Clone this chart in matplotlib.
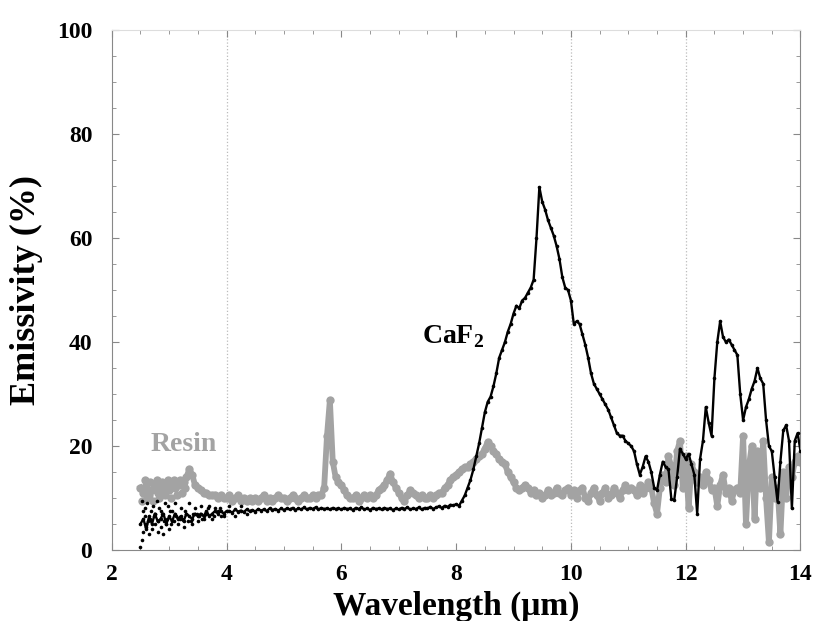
import numpy as np
import matplotlib
matplotlib.use("Agg")
import matplotlib.pyplot as plt

plt.rcParams["font.family"] = ["Liberation Serif", "DejaVu Serif"]
plt.rcParams["font.weight"] = "bold"
plt.rcParams["mathtext.fontset"] = "custom"
plt.rcParams["mathtext.rm"] = "Liberation Serif:bold"
plt.rcParams["mathtext.bf"] = "Liberation Serif:bold"

# wavelength grid (um), 0.05 step from 2.5 to 14.0
wavelength = np.round(np.arange(2.5, 14.0001, 0.05), 2)

# CaF2 emissivity (%), one row per um
caf2 = [
    5, 6, 4, 6.5, 5, 7, 5.5, 6, 7, 5,
    6.5, 5.5, 7, 6, 6.5, 5.5, 7, 6.5, 6, 7, 6.5, 7, 6.5, 7.5, 6.5, 7, 7.5, 7, 7.5, 7,
    7.5, 7.5, 7.2, 7.8, 7.4, 7.6, 7.3, 7.8, 7.5, 7.7, 7.4, 7.9, 7.6, 7.8, 7.5, 8.0, 7.7, 7.9, 7.6, 8.0,
    7.7, 8.0, 7.8, 8.1, 7.7, 8.0, 7.8, 8.2, 7.8, 8.1, 7.9, 8.2, 7.8, 8.1, 7.9, 8.0, 7.8, 8.1, 7.9, 8.0,
    7.8, 8.1, 7.9, 8.0, 7.7, 8.1, 7.9, 8.2, 7.8, 8.0, 7.7, 8.1, 7.9, 8.0, 7.8, 8.1, 7.9, 8.0, 7.7, 8.0,
    7.8, 8.1, 7.9, 8.2, 7.8, 8.0, 7.9, 8.2, 7.8, 8.1, 8.0, 8.3, 7.9, 8.2, 8.4, 8.1, 8.5, 8.3, 8.7, 8.6,
    8.8, 8.5, 9.5, 10.5, 12, 13.5, 15.5, 18, 20.5, 23.5, 26.5, 28.5, 29.5, 31.5, 34, 37, 38.5, 40, 42, 43.5,
    45.5, 47, 46.5, 48, 48.5, 49.5, 50.5, 52, 60, 69.8, 67, 65.5, 63.5, 62, 60.5, 58.5, 56, 52.5, 50.5, 50,
    48, 43.5, 44, 43.5, 41.5, 39.5, 37, 34, 32, 31, 30, 29, 28, 27, 25.5, 24, 22.5, 22, 22, 21,
    20.5, 20, 19, 16.5, 14.5, 16, 18, 17, 15, 12, 11.5, 14.5, 17, 16, 15.5, 9.8, 9.6, 14, 19.5, 18.5,
    17.5, 18.5, 16.5, 14.5, 7, 17.5, 21, 27.5, 24.5, 22, 33, 40, 44, 41, 40, 40.5, 39.5, 38.5, 37.5, 30,
    25, 27.5, 29, 31, 32.5, 35, 33, 32, 25, 20, 19, 14, 9.3, 17, 23, 24, 21, 8, 21, 22.5, 19,
]

# extra scattered CaF2 points in the noisy short-wavelength part
caf2_noise_x = [2.5, 2.52, 2.53, 2.55, 2.57, 2.6, 2.62, 2.65, 2.68, 2.7, 2.72, 2.75, 2.78, 2.8,
                2.83, 2.85, 2.88, 2.9, 2.93, 2.95, 2.98, 3.0, 3.05, 3.08, 3.1, 3.15, 3.2,
                3.25, 3.3, 3.35, 3.4, 3.45, 3.5, 3.55, 3.6, 3.7, 3.75, 3.8, 3.9,
                2.58, 2.63, 2.73, 2.81, 2.86, 2.96, 3.03, 3.12, 3.22, 3.32, 3.42, 3.52, 3.65, 3.85,
                2.54, 2.59, 2.66, 2.76, 2.91, 3.02, 3.18, 3.28, 3.38, 3.48, 3.58, 3.68, 3.78,
                3.88, 3.95, 4.05, 4.15, 4.25, 4.35]
caf2_noise_y = [0.5, 2, 9.5, 3.5, 8, 4.5, 9, 3, 7.5, 4, 8.5, 5, 9.5, 3.5,
                8, 4.5, 7, 3, 9, 5, 8.5, 4, 7.5, 5.5, 9, 5, 8,
                4.5, 7, 9, 5, 8, 5.5, 8.5, 6, 8.5, 6, 8, 6.5,
                6.5, 5.5, 6.5, 5.5, 7.5, 6, 5, 6.5, 6, 5.5, 7, 6.5, 7, 7.5,
                7.5, 5, 6, 7, 5.5, 7.5, 6, 7.5, 5.5, 7, 6, 8, 6.5,
                8, 6.5, 8.5, 6.5, 8.5, 7]

# Resin emissivity (%)
resin = [
    12, 11, 12.5, 10.5, 11.5, 12.5, 11, 12, 11.5, 12.5,
    11.5, 12.5, 12, 12.5, 12.5, 13, 14, 15.5, 14.5, 12.5, 12, 11.5, 11, 11, 10.5, 10.5, 10.5, 10, 10.5, 10,
    10, 10.5, 9.5, 10, 10.5, 9.5, 10, 9.5, 10, 9.5, 10, 9.5, 10, 10.5, 9.5, 10, 9.5, 10, 10.5, 10,
    10, 9.5, 10, 10.5, 10, 9.5, 10, 10.5, 10, 10, 10.5, 10, 10.5, 10.5, 12, 22, 28.8, 17, 14, 13,
    12.5, 11.5, 10.5, 10, 10, 10.5, 9.5, 10, 10.5, 10, 10.5, 10, 10.5, 11.5, 12, 12.5, 13.5, 14.7, 13, 12,
    11, 10, 9.5, 10.5, 11.5, 11, 10.5, 10, 10.5, 10, 10, 10.5, 10, 10.5, 11, 11, 12, 12.5, 13.5, 14,
    14.5, 15, 15.5, 16, 16, 16.5, 17, 17.5, 18, 18.5, 19.5, 20.8, 20, 19, 18.5, 17.5, 17, 16.5, 15, 14,
    13, 12, 11.5, 12, 12.5, 12, 11, 11.5, 10.5, 11, 10, 10.5, 11.5, 10.5, 11, 12, 11, 10.5, 11.5, 12,
    10.5, 11.5, 10, 11.5, 12, 10, 9.5, 11, 12, 10.5, 9.5, 11, 12, 10, 10.5, 12, 11, 10, 11.5, 12.5,
    11.5, 12, 11.5, 10.5, 12.5, 11, 12, 13, 12, 9, 7, 12, 14.5, 13, 18, 16, 12.5, 19, 21, 12,
    18, 8, 16.5, 15, 13, 14, 12.5, 15, 13.5, 11.5, 12, 8.5, 12.5, 14.5, 11, 12, 9.5, 11.5, 12, 11,
    22, 5, 16, 20, 6, 19, 12, 21, 10, 1.5, 14, 10, 12, 3, 15, 10, 16, 14, 17, 18, 17,
]

# extra scattered Resin points where the band is wide
resin_noise_x = [2.52, 2.57, 2.62, 2.67, 2.72, 2.78, 2.83, 2.88, 2.93, 2.98, 3.03, 3.08,
                 3.13, 3.18, 3.23, 3.28]
resin_noise_y = [9.5, 13.5, 10, 13, 9.5, 13.5, 10, 13, 10.5, 13.5, 10, 13.5,
                 10.5, 13.5, 11, 12]

fig = plt.figure(figsize=(8.16, 6.21), dpi=100)
ax = fig.add_axes([0.137, 0.1143, 0.844, 0.837])

for g in [4, 10, 12]:
    ax.axvline(g, color="#bbbbbb", linestyle=":", linewidth=0.9, zorder=0)

grey = "#a3a3a3"
ax.plot(wavelength, resin, color=grey, linewidth=4.2, marker="o", markersize=6,
        markeredgewidth=0, zorder=2)
ax.plot(resin_noise_x, resin_noise_y, linestyle="none", color=grey, marker="o",
        markersize=6, markeredgewidth=0, zorder=2)
ax.plot(wavelength, caf2, color="black", linewidth=1.7, marker="o", markersize=2.6,
        markeredgewidth=0, zorder=3)
ax.plot(caf2_noise_x, caf2_noise_y, linestyle="none", color="black", marker="o",
        markersize=2.6, markeredgewidth=0, zorder=3)

ax.text(3.25, 20.3, "Resin", color=grey, fontsize=20, fontweight="bold",
        ha="center", va="center")
ax.text(7.95, 41.0, "CaF$_\\mathbf{2}$", color="black", fontsize=20, fontweight="bold",
        ha="center", va="center")

ax.set_xlim(2, 14)
ax.set_ylim(0, 100)
ax.set_xticks(range(2, 15, 2))
ax.set_yticks(range(0, 101, 20))
ax.set_xticks(np.arange(2, 14.01, 0.5), minor=True)
ax.set_yticks(range(0, 101, 5), minor=True)
ax.tick_params(which="both", direction="in", top=True, right=True, color="#888888",
               labelsize=17)
ax.tick_params(which="major", length=5)
ax.tick_params(which="minor", length=3)
ax.tick_params(axis="x", pad=10)
ax.tick_params(axis="y", pad=14)
for lbl in ax.get_xticklabels() + ax.get_yticklabels():
    lbl.set_fontweight("bold")

for side in ["left", "bottom", "right"]:
    ax.spines[side].set_color("#888888")
ax.spines["top"].set_color("#dddddd")

ax.set_xlabel("Wavelength (μm)", fontsize=24, fontweight="bold", labelpad=4)
ax.set_ylabel("Emissivity (%)", fontsize=26, fontweight="bold", labelpad=10)

fig.savefig("out.png", dpi=100)
